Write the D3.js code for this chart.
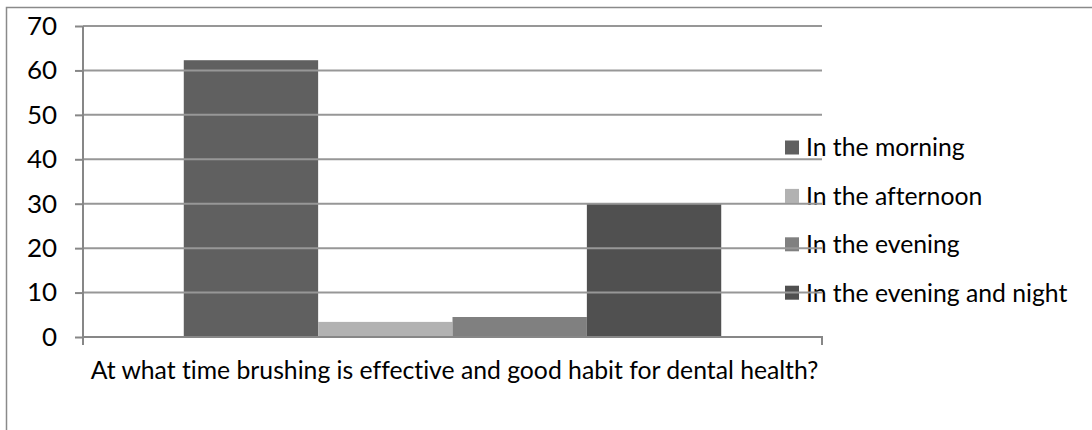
<!DOCTYPE html>
<html>
<head>
<meta charset="utf-8">
<script src="https://cdn.jsdelivr.net/npm/d3@7/dist/d3.min.js"></script>
<style>
  html, body { margin: 0; padding: 0; background: #fff; }
  svg { display: block; }
  text { font-family: Lato, "Open Sans", sans-serif; fill: #000; font-variant-ligatures: none; }
</style>
</head>
<body>
<script>
// Survey answers: when is brushing most effective
const category = "At what time brushing is effective and good habit for dental health?";
const seriesNames = ["In the morning", "In the afternoon", "In the evening", "In the evening and night"];
const seriesValues = [62.3, 3.4, 4.5, 30];
const seriesColors = ["#606060", "#b2b2b2", "#808080", "#505050"];
const yTicks = [0, 10, 20, 30, 40, 50, 60, 70];

const W = 1092, H = 430;
const plot = { left: 83, right: 822, top: 26, bottom: 337 };

const svg = d3.select("body").append("svg")
  .attr("width", W).attr("height", H);

// chart frame
svg.append("rect")
  .attr("x", 6.5).attr("y", 7.5)
  .attr("width", W + 20).attr("height", H + 20)
  .attr("fill", "#fff").attr("stroke", "#8a8a8a").attr("stroke-width", 1.5);

const y = d3.scaleLinear().domain([0, 70]).range([plot.bottom, plot.top]);

// one category spanning the plot; series bars inside it with a 150% gap
const x0 = d3.scaleBand().domain([category]).range([plot.left, plot.right]).padding(0);
const n = seriesNames.length;
const barW = x0.bandwidth() / (n + 1.5);
const x1 = d3.scaleBand().domain(seriesNames)
  .range([x0(category) + barW * 0.75, x0(category) + x0.bandwidth() - barW * 0.75])
  .padding(0);

// size the text so the category label spans the plot width
const probe = svg.append("text").attr("font-size", 20).text(category);
const probeW = probe.node().getComputedTextLength();
probe.remove();
const fs = 20 * 728 / probeW;

// bars
svg.append("g").selectAll("rect")
  .data(seriesNames.map((s, i) => ({ s, v: seriesValues[i], c: seriesColors[i] })))
  .join("rect")
  .attr("x", d => x1(d.s))
  .attr("width", x1.bandwidth())
  .attr("y", d => y(d.v))
  .attr("height", d => y(0) - y(d.v))
  .attr("fill", d => d.c);

// legend
const legend = svg.append("g");
const legendTop = 147.5, legendStep = 48.4;
seriesNames.forEach((s, i) => {
  const cy = legendTop + i * legendStep;
  legend.append("rect")
    .attr("x", 785).attr("y", cy - 7)
    .attr("width", 14).attr("height", 14)
    .attr("fill", seriesColors[i]);
  legend.append("text")
    .attr("x", 806).attr("y", cy).attr("dy", "0.36em")
    .attr("font-size", fs)
    .text(s);
});

// horizontal gridlines
svg.append("g").selectAll("line")
  .data(yTicks.filter(t => t > 0))
  .join("line")
  .attr("x1", plot.left).attr("x2", plot.right)
  .attr("y1", d => y(d)).attr("y2", d => y(d))
  .attr("stroke", "#979797").attr("stroke-width", 2);

// value axis
const yAxis = d3.axisLeft(y).tickValues(yTicks).tickSize(8).tickPadding(18);
const gy = svg.append("g").attr("transform", `translate(${plot.left},0)`).call(yAxis);
gy.select(".domain").attr("stroke", "#878787").attr("stroke-width", 2)
  .attr("d", `M0,${plot.top}V${plot.bottom}`);
gy.selectAll(".tick line").attr("stroke", "#878787").attr("stroke-width", 2);
gy.selectAll(".tick text").attr("font-size", fs * 1.05)
  .attr("font-family", "Lato, 'Open Sans', sans-serif").attr("fill", "#000");

// category axis
const xAxis = d3.axisBottom(x0).tickSize(0).tickFormat(() => "");
const gx = svg.append("g").attr("transform", `translate(0,${plot.bottom})`).call(xAxis);
gx.select(".domain").attr("stroke", "#878787").attr("stroke-width", 2)
  .attr("d", `M${plot.left},8V0H${plot.right}V8`);

svg.append("text")
  .attr("x", (plot.left + plot.right) / 2 + 2).attr("y", 379)
  .attr("text-anchor", "middle")
  .attr("font-size", fs)
  .text(category);
</script>
</body>
</html>
